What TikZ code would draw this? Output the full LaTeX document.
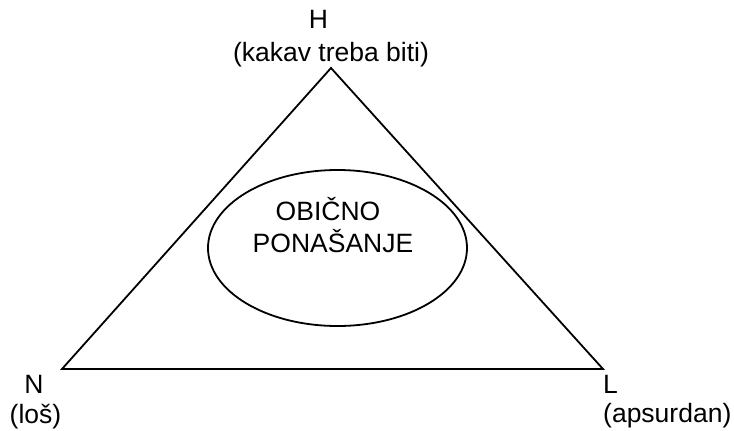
\documentclass[tikz,border=0pt]{standalone}
\usepackage{fontspec}
\setmainfont{Liberation Sans}
\begin{document}
\begin{tikzpicture}[x=1pt,y=-1pt,
    lbl/.style={inner sep=0pt,font=\fontsize{26.5}{32}\selectfont}]
        \useasboundingbox (0,0) rectangle (734,431);
        % corners of the triangle
        \coordinate (H) at (331,68);
        \coordinate (N) at (62,369);
        \coordinate (L) at (603,369);
        \coordinate (C) at (337.5,248);% centre of the ellipse
        
        \draw[line width=1.8pt,line join=miter] (H) -- (N) -- (L) -- cycle;
        \draw[line width=1.8pt] (C) ellipse [x radius=129.5,y radius=78];
        % the labels
        \node[lbl,anchor=base] (hname) at (318.5,28) {H};
        \node[lbl,anchor=base] (hdesc) at (331,61) {(kakav treba biti)};
        \node[lbl,anchor=base] (nname) at (34,393) {N};
        \node[lbl,anchor=base] (ndesc) at (35.5,423) {(loš)};
        \node[lbl,anchor=base west] (lname) at (603,393) {L};
        \node[lbl,anchor=base west] (ldesc) at (603,422) {(apsurdan)};
        \node[lbl,anchor=base] (obicno) at (328,220) {OBIČNO};
        \node[lbl,anchor=base] (ponasanje) at (333,252) {PONAŠANJE};
    \end{tikzpicture}
\end{document}
